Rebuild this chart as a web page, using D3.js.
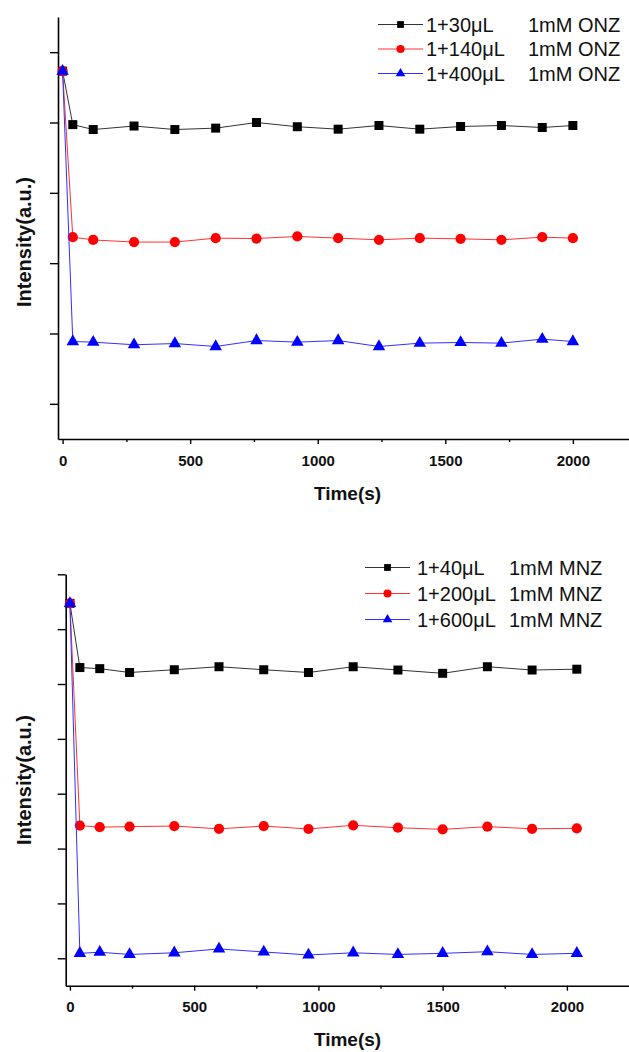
<!DOCTYPE html>
<html>
<head>
<meta charset="utf-8">
<script src="https://cdn.jsdelivr.net/npm/d3@7"></script>
<style>
  html, body { margin: 0; padding: 0; background: #fff; }
  svg { display: block; }
  text { font-family: "Liberation Sans", Arial, sans-serif; }
</style>
</head>
<body>
<svg id="chart" width="629" height="1052"></svg>
<script>
// ---------- Data (top panel: ONZ) ----------
const timeONZ = [0, 40, 120, 280, 440, 600, 760, 920, 1080, 1240, 1400, 1560, 1720, 1880, 2000];
const onz30  = [5.73, 4.97, 4.90, 4.95, 4.90, 4.92, 5.00, 4.94, 4.905, 4.957, 4.905, 4.943, 4.957, 4.929, 4.957];
const onz140 = [5.73, 3.37, 3.33, 3.30, 3.30, 3.356, 3.35, 3.38, 3.356, 3.332, 3.356, 3.346, 3.332, 3.37, 3.356];
const onz400 = [5.73, 1.886, 1.877, 1.84, 1.857, 1.815, 1.90, 1.877, 1.90, 1.815, 1.863, 1.872, 1.863, 1.92, 1.886];
const legendONZ = [["1+30\u03bcL", "1mM ONZ"], ["1+140\u03bcL", "1mM ONZ"], ["1+400\u03bcL", "1mM ONZ"]];

// ---------- Data (bottom panel: MNZ) ----------
const timeMNZ = [0, 40, 120, 240, 420, 600, 780, 960, 1140, 1320, 1500, 1680, 1860, 2040];
const mnz40  = [6.47, 5.30, 5.28, 5.21, 5.26, 5.315, 5.26, 5.21, 5.315, 5.255, 5.195, 5.315, 5.255, 5.27];
const mnz200 = [6.47, 2.42, 2.39, 2.40, 2.41, 2.36, 2.41, 2.357, 2.424, 2.38, 2.35, 2.40, 2.36, 2.37];
const mnz600 = [6.47, 0.09, 0.11, 0.07, 0.10, 0.17, 0.115, 0.06, 0.10, 0.07, 0.09, 0.12, 0.07, 0.09];
const legendMNZ = [["1+40\u03bcL", "1mM MNZ"], ["1+200\u03bcL", "1mM MNZ"], ["1+600\u03bcL", "1mM MNZ"]];

// ---------- Tick values ----------
const xMajorTicks = [0, 500, 1000, 1500, 2000];
const xMinorTicks = [250, 750, 1250, 1750];
const yTicksONZ = [1, 2, 3, 4, 5, 6];
const yTicksMNZ = [0, 1, 2, 3, 4, 5, 6, 7];

const xLabel = "Time(s)";
const yLabel = "Intensity(a.u.)";

const seriesStyle = [
  { color: "#000000", line: "#333333", symbol: d3.symbolSquare, size: 81, lsize: 46 },
  { color: "#ff0000", line: "#ff3030", symbol: d3.symbolCircle, size: 82, lsize: 52 },
  { color: "#0000ff", line: "#3030ff", symbol: d3.symbolTriangle, size: 68, lsize: 40 }
];

const svg = d3.select("#chart");

function drawPanel(cfg) {
  const g = svg.append("g");
  const x = d3.scaleLinear().domain(cfg.xDomain).range(cfg.xRange);
  const y = d3.scaleLinear().domain(cfg.yDomain).range(cfg.yRange);

  // X axis major
  const xAxis = g.append("g")
    .attr("transform", `translate(0,${cfg.yRange[0]})`)
    .call(d3.axisBottom(x).tickValues(xMajorTicks).tickSize(5).tickSizeOuter(0).tickPadding(11).tickFormat(d3.format("d")));
  xAxis.select(".domain").attr("stroke", "#000").attr("stroke-width", 1.6);
  xAxis.selectAll(".tick line").attr("stroke", "#000").attr("stroke-width", 1.4);
  xAxis.selectAll(".tick text").attr("fill", "#111").attr("font-size", 15).attr("font-weight", "bold")
    .attr("font-family", "Liberation Sans, Arial, sans-serif");
  // X axis minor
  const xMinor = g.append("g")
    .attr("transform", `translate(0,${cfg.yRange[0]})`)
    .call(d3.axisBottom(x).tickValues(xMinorTicks).tickSize(3).tickSizeOuter(0).tickFormat(""));
  xMinor.select(".domain").remove();
  xMinor.selectAll(".tick line").attr("stroke", "#000").attr("stroke-width", 1.4);

  // Y axis
  const yAxis = g.append("g")
    .attr("transform", `translate(${cfg.xRange[0]},0)`)
    .call(d3.axisLeft(y).tickValues(cfg.yTicks).tickSize(8).tickSizeOuter(0).tickFormat(""));
  yAxis.select(".domain").attr("stroke", "#000").attr("stroke-width", 1.6);
  yAxis.selectAll(".tick line").attr("stroke", "#000").attr("stroke-width", 1.4);

  // Axis titles
  g.append("text")
    .attr("x", cfg.xTitlePos[0]).attr("y", cfg.xTitlePos[1])
    .attr("text-anchor", "middle").attr("font-size", 19).attr("font-weight", "bold").attr("fill", "#111")
    .text(xLabel);
  g.append("text")
    .attr("transform", `translate(${cfg.yTitlePos[0]},${cfg.yTitlePos[1]}) rotate(-90)`)
    .attr("text-anchor", "middle").attr("font-size", 20).attr("font-weight", "bold").attr("fill", "#111")
    .text(yLabel);

  // Series
  cfg.series.forEach((vals, i) => {
    const st = seriesStyle[i];
    const pts = cfg.time.map((t, j) => [t, vals[j]]);
    g.append("path")
      .datum(pts)
      .attr("fill", "none").attr("stroke", st.line).attr("stroke-width", 1)
      .attr("d", d3.line().x(d => x(d[0])).y(d => y(d[1])));
    g.selectAll(null).data(pts).enter().append("path")
      .attr("transform", d => `translate(${x(d[0])},${y(d[1])})`)
      .attr("d", d3.symbol().type(st.symbol).size(st.size)())
      .attr("fill", st.color);
  });

  // Legend
  cfg.legend.forEach((lab, i) => {
    const st = seriesStyle[i];
    const cy = cfg.legendPos.y0 + i * cfg.legendPos.dy;
    g.append("line")
      .attr("x1", cfg.legendPos.lx1).attr("x2", cfg.legendPos.lx2)
      .attr("y1", cy).attr("y2", cy)
      .attr("stroke", st.line).attr("stroke-width", 1);
    g.append("path")
      .attr("transform", `translate(${(cfg.legendPos.lx1 + cfg.legendPos.lx2) / 2},${cy})`)
      .attr("d", d3.symbol().type(st.symbol).size(st.lsize)())
      .attr("fill", st.color);
    g.append("text")
      .attr("x", cfg.legendPos.tx1).attr("y", cy).attr("dy", "0.36em")
      .attr("font-size", 20).attr("fill", "#111").text(lab[0]);
    g.append("text")
      .attr("x", cfg.legendPos.tx2).attr("y", cy).attr("dy", "0.36em")
      .attr("font-size", 20).attr("fill", "#111").text(lab[1]);
  });
}

drawPanel({
  time: timeONZ,
  series: [onz30, onz140, onz400],
  legend: legendONZ,
  xDomain: [-18, 2220], xRange: [58, 629],
  yDomain: [0.5, 6.5], yRange: [439, 17],
  yTicks: yTicksONZ,
  xTitlePos: [347.5, 500],
  yTitlePos: [31, 242],
  legendPos: { lx1: 378, lx2: 423, tx1: 426, tx2: 528, y0: 24.5, dy: 24.5 }
});

drawPanel({
  time: timeMNZ,
  series: [mnz40, mnz200, mnz600],
  legend: legendMNZ,
  xDomain: [-17, 2250], xRange: [65.7, 629],
  yDomain: [-0.5, 7], yRange: [985.7, 574.3],
  yTicks: yTicksMNZ,
  xTitlePos: [347.5, 1045.5],
  yTitlePos: [31, 780],
  legendPos: { lx1: 365, lx2: 410, tx1: 417, tx2: 509, y0: 567.5, dy: 26 }
});
</script>
</body>
</html>
